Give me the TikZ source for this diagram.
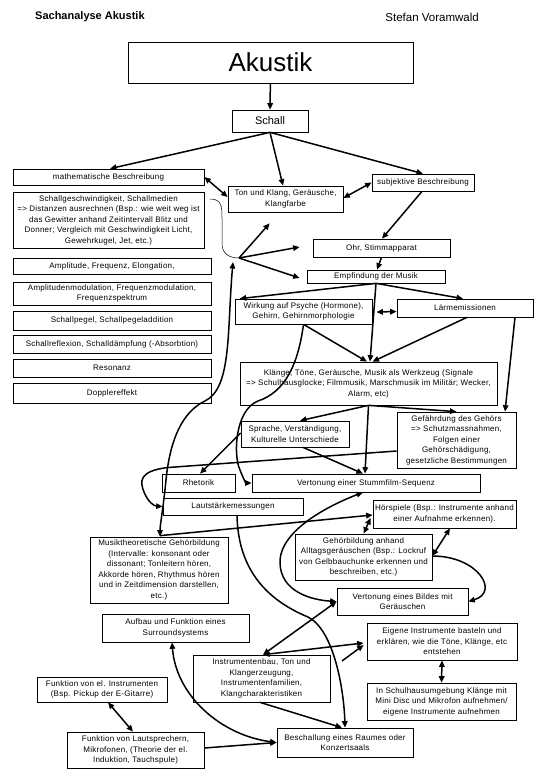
\documentclass[tikz,border=0pt]{standalone}
\usepackage{fontspec}
\setmainfont{Liberation Sans}
\newfontfamily\boxfont[LetterSpace=3]{Liberation Sans}
\usetikzlibrary{arrows.meta,calc}
\begin{document}
\begin{tikzpicture}[x=1pt,y=-1pt,
  box/.style={draw, line width=0.7pt, fill=white, align=center, inner sep=1pt, font=\boxfont\fontsize{8}{10.5}\selectfont},
  con/.style={line width=1.5pt, -{Triangle[length=6.5pt,width=5.5pt]}},
  dcon/.style={line width=1.5pt, {Triangle[length=6.5pt,width=5.5pt]}-{Triangle[length=6.5pt,width=5.5pt]}},
  thinline/.style={line width=0.5pt}
]
\path[fill=white,use as bounding box] (0,0) rectangle (540,780);

% header
\node[font=\bfseries\fontsize{11}{13}\selectfont, anchor=west, inner sep=0pt] (hdl) at (35,17) {Sachanalyse Akustik};
\node[font=\fontsize{11.5}{13}\selectfont, anchor=east, inner sep=0pt] (hdr) at (479,17) {Stefan Voramwald};

% nodes
\node[box, minimum width=285pt, minimum height=41pt, font=\fontsize{26}{30}\selectfont] (akustik) at (270.5,62.5) {Akustik};
\node[box, minimum width=76pt, minimum height=22pt, font=\fontsize{11}{13}\selectfont] (schall) at (270,121) {Schall};
\node[box, minimum width=191pt, minimum height=16pt] (math) at (108.5,177) {mathematische Beschreibung};
\node[box, minimum width=191pt, minimum height=56pt] (sgeschw) at (108.5,220) {Schallgeschwindigkeit, Schallmedien\\=> Distanzen ausrechnen (Bsp.: wie weit weg ist\\das Gewitter anhand Zeitintervall Blitz und\\Donner; Vergleich mit Geschwindigkeit Licht,\\Gewehrkugel, Jet, etc.)};
\node[box, minimum width=198pt, minimum height=16pt] (ampl) at (112,266) {Amplitude, Frequenz, Elongation,};
\node[box, minimum width=198pt, minimum height=23pt] (ampmod) at (112,293.5) {Amplitudenmodulation, Frequenzmodulation,\\Frequenzspektrum};
\node[box, minimum width=198pt, minimum height=19pt] (pegel) at (112,320.5) {Schallpegel, Schallpegeladdition};
\node[box, minimum width=198pt, minimum height=18pt] (reflex) at (112,344) {Schallreflexion, Schalld\"ampfung (-Absorbtion)};
\node[box, minimum width=198pt, minimum height=18pt] (reson) at (112,368) {Resonanz};
\node[box, minimum width=198pt, minimum height=20pt] (doppler) at (112,393) {Dopplereffekt};
\node[box, minimum width=115pt, minimum height=26pt] (ton) at (285.5,199) {Ton und Klang, Ger\"ausche,\\Klangfarbe};
\node[box, minimum width=102pt, minimum height=17pt] (subj) at (423,182.5) {subjektive Beschreibung};
\node[box, minimum width=137pt, minimum height=18pt] (ohr) at (381.5,248) {Ohr, Stimmapparat};
\node[box, minimum width=138pt, minimum height=13pt] (empf) at (376,276.5) {Empfindung der Musik};
\node[box, minimum width=137pt, minimum height=25pt] (wirk) at (303.5,311.5) {Wirkung auf Psyche (Hormone),\\Gehirn, Gehirnmorphologie};
\node[box, minimum width=136pt, minimum height=18pt] (laerm) at (465,308) {L\"armemissionen};
\node[box, minimum width=257pt, minimum height=43pt] (klaenge) at (368.5,383.5) {Kl\"ange, T\"one, Ger\"ausche, Musik als Werkzeug (Signale\\=> Schulhausglocke; Filmmusik, Marschmusik im Milit\"ar; Wecker,\\Alarm, etc)};
\node[box, minimum width=108pt, minimum height=26pt] (sprache) at (295,434) {Sprache, Verst\"andigung,\\Kulturelle Unterschiede};
\node[box, minimum width=119pt, minimum height=56pt] (gefahr) at (456.5,440) {Gef\"ahrdung des Geh\"ors\\=> Schutzmassnahmen,\\Folgen einer\\Geh\"orsch\"adigung,\\gesetzliche Bestimmungen};
\node[box, minimum width=73pt, minimum height=18pt] (rhetorik) at (198.5,483) {Rhetorik};
\node[box, minimum width=228pt, minimum height=18pt] (stumm) at (366,483) {Vertonung einer Stummfilm-Sequenz};
\node[box, minimum width=140pt, minimum height=17pt] (laut) at (233,506.5) {Lautst\"arkemessungen};
\node[box, minimum width=143pt, minimum height=28pt] (hoersp) at (444.5,514) {H\"orspiele (Bsp.: Instrumente anhand\\einer Aufnahme erkennen).};
\node[box, minimum width=138pt, minimum height=66pt] (musikth) at (159,570) {Musiktheoretische Geh\"orbildung\\(Intervalle: konsonant oder\\dissonant; Tonleitern h\"oren,\\Akkorde h\"oren, Rhythmus h\"oren\\und in Zeitdimension darstellen,\\etc.)};
\node[box, minimum width=137pt, minimum height=46pt] (alltag) at (363.5,557) {Geh\"orbildung anhand\\Alltagsger\"auschen (Bsp.: Lockruf\\von Gelbbauchunke erkennen und\\beschreiben, etc.)};
\node[box, minimum width=131pt, minimum height=27pt] (bild) at (402.5,601.5) {Vertonung eines Bildes mit\\Ger\"auschen};
\node[box, minimum width=147pt, minimum height=28pt] (aufbau) at (175.5,628) {Aufbau und Funktion eines\\Surroundsystems};
\node[box, minimum width=150pt, minimum height=37pt] (eigene) at (442,641.5) {Eigene Instrumente basteln und\\erkl\"aren, wie die T\"one, Kl\"ange, etc\\entstehen};
\node[box, minimum width=137pt, minimum height=47pt] (instr) at (261.5,678.5) {Instrumentenbau, Ton und\\Klangerzeugung,\\Instrumentenfamilien,\\Klangcharakteristiken};
\node[box, minimum width=130pt, minimum height=25pt] (eliinstr) at (102,689.5) {Funktion von el. Instrumenten\\(Bsp. Pickup der E-Gitarre)};
\node[box, minimum width=149pt, minimum height=37pt] (schulhaus) at (441.5,701.5) {In Schulhausumgebung Kl\"ange mit\\Mini Disc und Mikrofon aufnehmen/\\eigene Instrumente aufnehmen};
\node[box, minimum width=137pt, minimum height=36pt] (lautspr) at (135.5,750) {Funktion von Lautsprechern,\\Mikrofonen, (Theorie der el.\\Induktion, Tauchspule)};
\node[box, minimum width=136pt, minimum height=29pt] (beschall) at (345,742.5) {Beschallung eines Raumes oder\\Konzertsaals};

% free points
\coordinate (tip) at (239,258);
\coordinate (tipb) at (233,262);
\coordinate (bracetop) at (210,199);
\coordinate (stub) at (342,661);

% connectors
\draw[con] (akustik) -- (schall);
\draw[con] (schall.south) -- ($(math.north)+(1.5,0)$);
\draw[con] (schall.south) -- ($(ton.north)+(-2.5,0)$);
\draw[con] (schall.south) -- (subj.north);
\draw[dcon] (math.east) -- ($(ton.west)+(0,-2)$);
\draw[dcon] ($(ton.east)+(0,-1)$) -- (subj.west);
\draw[con] ($(subj.south)+(-1,0)$) -- ($(ohr.north)+(0.5,0)$);
\draw[con] (ohr.south) -- ($(empf.north)+(1,0)$);
\draw[thinline] (bracetop) .. controls (222,199) and (222,207) .. (222,218) -- (222,244) .. controls (222,254) and (230,258) .. (tip);
\draw[dcon] (tipb) .. controls (227,330) and (232,388) .. (205,401) .. controls (182,412) and (170,440) .. (166,480) .. controls (163,510) and (160,525) .. ($(musikth.north)+(1,0)$);
\draw[con] (tip) -- ($(ton.south west)+(42,11)$);
\draw[con] (tip) -- ($(ohr.west)+(-13,-1)$);
\draw[con] (tip) -- ($(empf.west)+(-7,1.5)$);
\draw[con] (empf.south) -- ($(wirk.north west)+(5,0)$);
\draw[con] (empf.south) -- ($(laerm.north)+(-2,0)$);
\draw[con] (empf.south) -- ($(klaenge.north)+(1.5,0)$);
\draw[dcon] ($(wirk.east)+(4,0.5)$) -- ($(laerm.west)+(0,3.5)$);
\draw[con] (wirk.south) -- ($(klaenge.north)+(-1.5,0)$);
\draw[con] ($(laerm.south)+(2,0)$) -- ($(klaenge.north)+(4,0)$);
\draw[con] ($(laerm.south)+(50,0)$) -- ($(gefahr.north)+(48.5,0)$);
\draw[con] (wirk.south) .. controls (298,365) and (285,392) .. (258,401) .. controls (235,410) and (233,455) .. (240,470) .. controls (243,478) and (246,483) .. (stumm.west);
\draw[con] (klaenge.south) -- ($(sprache.north)+(5,0)$);
\draw[con] (klaenge.south) -- (gefahr.north);
\draw[con] (klaenge.south) -- ($(stumm.north)+(-1,0)$);
\draw[con] ($(sprache.south)+(8,0)$) -- ($(stumm.north)+(-3,0)$);
\draw[con] ($(sprache.west)+(0,-1)$) -- ($(rhetorik.north)+(1.5,0)$);
\draw[con] ($(gefahr.west)+(0,11)$) -- (168,467.5) .. controls (138,471) and (140,482) .. (144,492) .. controls (148,502) and (154,506) .. (laut.west);
\draw[con] ($(musikth.north)+(1,-1)$) -- ($(hoersp.west)+(0,1)$);
\draw[dcon] (alltag.north) -- ($(hoersp.west)+(-2,4)$);
\draw[dcon] ($(stumm.south)+(-3,0)$) .. controls (330,505) and (280,530) .. (280,562) .. controls (280,592) and (312,600) .. (bild.west);
\draw[con] ($(laut.south)+(4,0)$) .. controls (238,565) and (262,598) .. (308,617) .. controls (334,630) and (344,690) .. (beschall.north);
\draw[dcon] ($(hoersp.south)+(5.5,0)$) -- ($(alltag.east)+(0,-1)$);
\draw[con] ($(alltag.east)+(0,-1)$) .. controls (478,556) and (500,592) .. (bild.east);
\draw[dcon] ($(instr.north)+(1.5,0)$) -- (bild.west);
\draw[dcon] ($(instr.north)+(1.5,0)$) -- ($(eigene.west)+(-3,1.5)$);
\draw[con] (stub) -- ($(eigene.west)+(-3,3.5)$);
\draw[dcon] (eigene.south) -- (schulhaus.north);
\draw[con] ($(instr.south)+(-1.5,0)$) -- ($(beschall.north)+(-3,0)$);
\draw[dcon] ($(aufbau.south)+(-3.5,0)$) .. controls (176,695) and (220,735) .. (beschall.west);
\draw[con] ($(lautspr.east)+(0,-2)$) -- (beschall.west);
\draw[dcon] ($(eliinstr.south)+(6,0)$) -- ($(lautspr.north)+(-2.5,0)$);
\end{tikzpicture}
\end{document}
